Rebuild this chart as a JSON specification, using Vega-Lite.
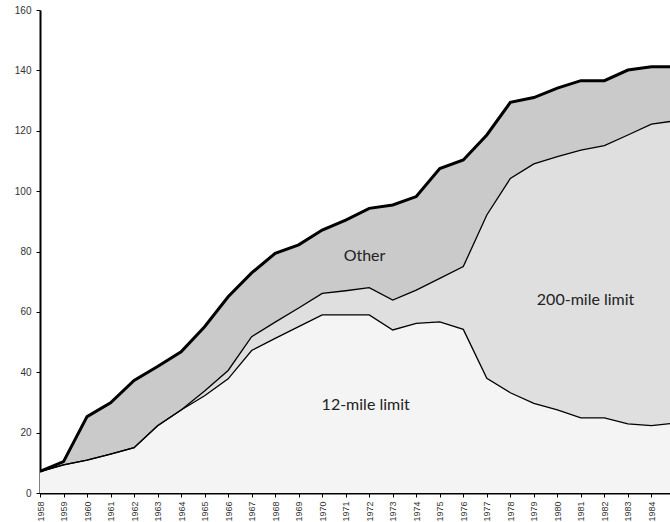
{
  "$schema": "https://vega.github.io/schema/vega-lite/v6.json",
  "width": 630,
  "height": 483,
  "autosize": {"type": "none"},
  "padding": {"left": 40, "top": 10, "right": 0, "bottom": 29},
  "background": "white",
  "config": {
    "view": {"stroke": null},
    "axis": {
      "labelFont": "Liberation Sans",
      "labelColor": "#333333",
      "domainColor": "#000000",
      "domainWidth": 2,
      "tickColor": "#000000",
      "tickWidth": 1,
      "tickSize": 4,
      "grid": false,
      "title": null,
      "labelOverlap": false
    },
    "axisX": {"tickCount": 27, "labelAngle": -90, "labelPadding": 4, "labelFontSize": 9, "format": "d", "labelBound": false, "labelFlush": false},
    "axisY": {"tickCount": 9, "labelPadding": 5, "labelFontSize": 10}
  },
  "layer": [
    {
      "data": {
        "values": [
          {"year": 1958, "12-mile limit": 7.1, "200-mile limit": 0, "Other": 0.1},
          {"year": 1959, "12-mile limit": 9.3, "200-mile limit": 0, "Other": 1.1},
          {"year": 1960, "12-mile limit": 10.9, "200-mile limit": 0, "Other": 14.4},
          {"year": 1961, "12-mile limit": 12.9, "200-mile limit": 0, "Other": 17.0},
          {"year": 1962, "12-mile limit": 15.0, "200-mile limit": 0, "Other": 22.3},
          {"year": 1963, "12-mile limit": 22.3, "200-mile limit": 0, "Other": 19.6},
          {"year": 1964, "12-mile limit": 27.5, "200-mile limit": 0, "Other": 19.3},
          {"year": 1965, "12-mile limit": 32.2, "200-mile limit": 1.6, "Other": 21.3},
          {"year": 1966, "12-mile limit": 37.8, "200-mile limit": 2.8, "Other": 24.4},
          {"year": 1967, "12-mile limit": 47.2, "200-mile limit": 4.6, "Other": 21.1},
          {"year": 1968, "12-mile limit": 51.2, "200-mile limit": 5.4, "Other": 22.8},
          {"year": 1969, "12-mile limit": 55.1, "200-mile limit": 6.2, "Other": 20.9},
          {"year": 1970, "12-mile limit": 59.0, "200-mile limit": 7.1, "Other": 21.0},
          {"year": 1971, "12-mile limit": 59.0, "200-mile limit": 8.0, "Other": 23.4},
          {"year": 1972, "12-mile limit": 59.0, "200-mile limit": 9.0, "Other": 26.3},
          {"year": 1973, "12-mile limit": 54.0, "200-mile limit": 9.9, "Other": 31.5},
          {"year": 1974, "12-mile limit": 56.2, "200-mile limit": 11.0, "Other": 31.0},
          {"year": 1975, "12-mile limit": 56.7, "200-mile limit": 14.4, "Other": 36.4},
          {"year": 1976, "12-mile limit": 54.2, "200-mile limit": 20.8, "Other": 35.3},
          {"year": 1977, "12-mile limit": 38.0, "200-mile limit": 54.1, "Other": 26.5},
          {"year": 1978, "12-mile limit": 33.2, "200-mile limit": 71.0, "Other": 25.2},
          {"year": 1979, "12-mile limit": 29.7, "200-mile limit": 79.3, "Other": 22.0},
          {"year": 1980, "12-mile limit": 27.5, "200-mile limit": 83.9, "Other": 22.7},
          {"year": 1981, "12-mile limit": 24.9, "200-mile limit": 88.7, "Other": 23.0},
          {"year": 1982, "12-mile limit": 24.9, "200-mile limit": 90.2, "Other": 21.5},
          {"year": 1983, "12-mile limit": 22.9, "200-mile limit": 95.7, "Other": 21.5},
          {"year": 1984, "12-mile limit": 22.3, "200-mile limit": 99.9, "Other": 19.0},
          {"year": 1985, "12-mile limit": 23.2, "200-mile limit": 100.1, "Other": 17.9}
        ]
      },
      "transform": [
        {"fold": ["12-mile limit", "200-mile limit", "Other"], "as": ["zone", "count"]}
      ],
      "layer": [
        {
          "mark": {"type": "area", "clip": true},
          "encoding": {
            "x": {
              "field": "year",
              "type": "quantitative",
              "scale": {"domain": [1958, 1984.79], "nice": false, "zero": false}
            },
            "y": {
              "field": "count",
              "type": "quantitative",
              "stack": "zero",
              "scale": {"domain": [0, 160], "nice": false}
            },
            "color": {
              "field": "zone",
              "type": "nominal",
              "scale": {"domain": ["12-mile limit", "200-mile limit", "Other"], "range": ["#f4f4f4", "#dfdfdf", "#cacaca"]},
              "legend": null
            },
            "order": {"field": "zone", "sort": "ascending"}
          }
        },
        {
          "mark": {"type": "line", "clip": true, "color": "#000000", "strokeWidth": 1.3},
          "encoding": {
            "x": {"field": "year", "type": "quantitative"},
            "y": {"field": "count", "type": "quantitative", "stack": "zero"},
            "detail": {"field": "zone", "type": "nominal"},
            "order": {"field": "zone", "sort": "ascending"}
          }
        },
        {
          "mark": {"type": "line", "clip": true, "color": "#000000", "strokeWidth": 3},
          "encoding": {
            "x": {"field": "year", "type": "quantitative"},
            "y": {"field": "count", "type": "quantitative", "aggregate": "sum"}
          }
        }
      ]
    },
    {
      "mark": {"type": "rule", "color": "#000000", "strokeWidth": 1},
      "encoding": {"y": {"datum": 160}}
    },
    {
      "data": {
        "values": [
          {"year": 1971.8, "count": 78.5, "label": "Other"},
          {"year": 1971.85, "count": 29.2, "label": "12-mile limit"},
          {"year": 1981.2, "count": 63.9, "label": "200-mile limit"}
        ]
      },
      "mark": {"type": "text", "font": "Lato", "fontSize": 16, "color": "#222222", "align": "center", "baseline": "middle"},
      "encoding": {
        "x": {"field": "year", "type": "quantitative"},
        "y": {"field": "count", "type": "quantitative"},
        "text": {"field": "label"}
      }
    }
  ]
}
